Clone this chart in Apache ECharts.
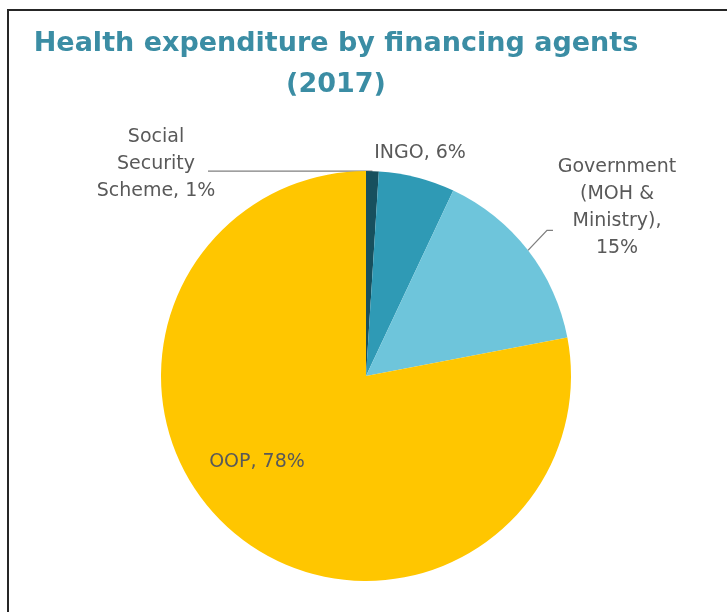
<!DOCTYPE html>
<html>
<head>
<meta charset="utf-8">
<script src="https://cdn.jsdelivr.net/npm/echarts@6/dist/echarts.min.js"></script>
<style>
  html, body { margin: 0; padding: 0; background: #ffffff; }
  #chart { width: 727px; height: 612px; }
</style>
</head>
<body>
<div id="chart"></div>
<script>
// Financing agents, shares of total health expenditure (%), 2017
const agents = ['Social\nSecurity\nScheme', 'INGO', 'Government\n(MOH &\nMinistry)', 'OOP'];
const shares = [1, 6, 15, 78];
const agentColors = ['#17505E', '#2F9AB5', '#6EC5DB', '#FFC600'];
// separator between the agent name and its share in each label
const shareBreak = [' ', ' ', '\n', ' '];

// label text centres
const labelSpots = [
  { x: 156, y: 164 },
  { x: 420, y: 153 },
  { x: 617, y: 208 },
  { x: 257, y: 462 }
];

// leader lines: start at the slice's outer edge, then run to the label
const leaderPaths = [
  a => [a, [208, a[1]]],                                   // straight across to the left label
  null,
  a => [a, [a[0] + 19, a[1] - 20], [a[0] + 25, a[1] - 20]], // short elbow up to the right label
  null
];

const chart = echarts.init(document.getElementById('chart'), null, { renderer: 'canvas' });

chart.setOption({
  backgroundColor: '#ffffff',
  animation: false,
  title: {
    text: 'Health expenditure by financing agents\n(2017)',
    left: 331,
    top: 18,
    textAlign: 'center',
    textStyle: {
      fontFamily: '"DejaVu Sans", sans-serif',
      fontWeight: 'bold',
      fontSize: 27,
      lineHeight: 41,
      color: '#3B8DA4'
    }
  },
  graphic: [{
    type: 'rect',
    silent: true,
    shape: { x: 8, y: 10, width: 760, height: 640 },
    style: { fill: 'none', stroke: '#262626', lineWidth: 2 }
  }],
  series: [{
    type: 'pie',
    center: [366, 376],
    radius: 205,
    startAngle: 90,
    clockwise: true,
    avoidLabelOverlap: false,
    itemStyle: { borderWidth: 0 },
    label: {
      show: true,
      position: 'outside',
      color: '#595959',
      fontFamily: '"DejaVu Sans", sans-serif',
      fontSize: 19,
      lineHeight: 27,
      align: 'center',
      formatter: p => p.name + ',' + shareBreak[p.dataIndex] + p.value + '%'
    },
    labelLine: {
      show: true,
      length: 10,
      length2: 10,
      lineStyle: { color: '#7F7F7F', width: 1.3 }
    },
    labelLayout: params => {
      const i = params.dataIndex;
      const s = labelSpots[i];
      const out = { x: s.x, y: s.y, align: 'center', verticalAlign: 'middle' };
      if (leaderPaths[i] && params.labelLinePoints) {
        out.labelLinePoints = leaderPaths[i](params.labelLinePoints[0].slice());
      }
      return out;
    },
    data: agents.map((name, i) => ({
      name: name,
      value: shares[i],
      itemStyle: { color: agentColors[i] },
      labelLine: { show: leaderPaths[i] !== null }
    }))
  }]
});
</script>
</body>
</html>
